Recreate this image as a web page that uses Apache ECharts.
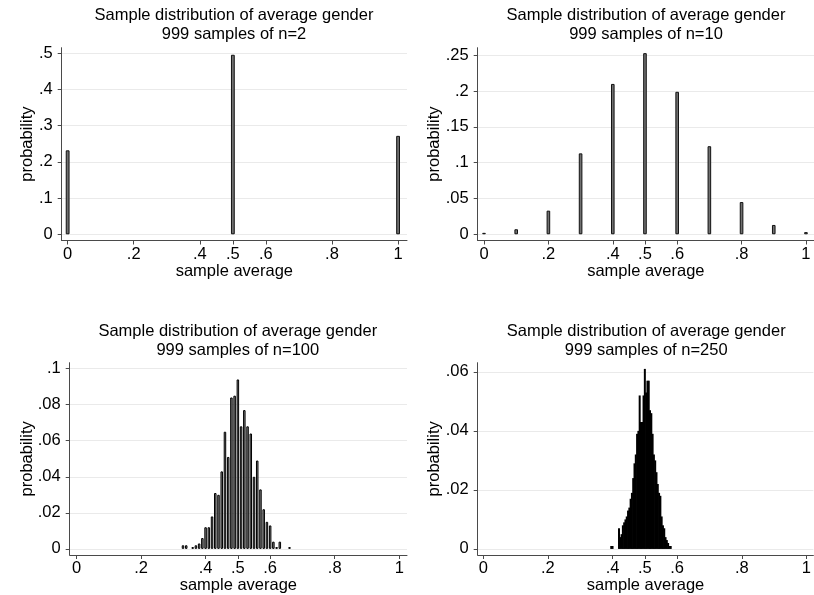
<!DOCTYPE html>
<html>
<head>
<meta charset="utf-8">
<script src="https://cdn.jsdelivr.net/npm/echarts@6/dist/echarts.min.js"></script>
<style>
html,body{margin:0;padding:0;background:#fff;}
#chart{width:814px;height:595px;}
</style>
</head>
<body>
<div id="chart"></div>
<script>
// ---- data ----
const titleLine = 'Sample distribution of average gender';
const subtitles = ['999 samples of n=2', '999 samples of n=10', '999 samples of n=100', '999 samples of n=250'];
const xTickValues = [0, 0.2, 0.4, 0.5, 0.6, 0.8, 1];

const n2X = [0, 0.5, 1];
const n2P = [0.232, 0.496, 0.272];
const n2YTicks = [0, 0.1, 0.2, 0.3, 0.4, 0.5];

const n10X = [0, 0.1, 0.2, 0.3, 0.4, 0.5, 0.6, 0.7, 0.8, 0.9, 1];
const n10P = [0.002, 0.007, 0.033, 0.113, 0.210, 0.253, 0.199, 0.123, 0.045, 0.013, 0.003];
const n10YTicks = [0, 0.05, 0.1, 0.15, 0.2, 0.25];

const n100X = [0.33, 0.34, 0.36, 0.37, 0.38, 0.39, 0.40, 0.41, 0.42, 0.43, 0.44, 0.45, 0.46, 0.47, 0.48, 0.49,
               0.50, 0.51, 0.52, 0.53, 0.54, 0.55, 0.56, 0.57, 0.58, 0.59, 0.60, 0.61, 0.62, 0.63, 0.66];
const n100P = [0.002, 0.002, 0.001, 0.002, 0.003, 0.006, 0.012, 0.012, 0.018, 0.031, 0.030, 0.043, 0.065, 0.051, 0.084, 0.085,
               0.094, 0.068, 0.077, 0.068, 0.064, 0.040, 0.049, 0.033, 0.022, 0.015, 0.013, 0.004, 0.001, 0.004, 0.001];
const n100YTicks = [0, 0.02, 0.04, 0.06, 0.08, 0.1];

const n250X = [0.396, 0.400, 0.420, 0.424, 0.428, 0.432, 0.436, 0.440, 0.444, 0.448, 0.452, 0.456, 0.460, 0.464,
               0.468, 0.472, 0.476, 0.480, 0.484, 0.488, 0.492, 0.496, 0.500, 0.504, 0.508, 0.512, 0.516, 0.520,
               0.524, 0.528, 0.532, 0.536, 0.540, 0.544, 0.548, 0.552, 0.556, 0.560, 0.564, 0.568, 0.572, 0.576, 0.580];
const n250P = [0.001, 0.001, 0.007, 0.004, 0.005, 0.008, 0.009, 0.010, 0.011, 0.013, 0.014, 0.017, 0.019, 0.024,
               0.029, 0.032, 0.039, 0.040, 0.052, 0.043, 0.043, 0.052, 0.061, 0.053, 0.057, 0.057, 0.047, 0.046,
               0.039, 0.032, 0.030, 0.026, 0.022, 0.019, 0.018, 0.011, 0.008, 0.007, 0.004, 0.003, 0.002, 0.001, 0.001];
const n250YTicks = [0, 0.02, 0.04, 0.06];

// ---- layout / style ----
const FONT = 'Liberation Sans, Arial, Helvetica, sans-serif';
const panels = [
  {x: n2X,   y: n2P,   yt: n2YTicks,   grid:{left:61.7, width:345.3, top:47.7, height:192.8}, xr:[-0.018, 1.027],  yr:[-0.0171, 0.5155], tx:234,   ty:6,  ng:25.5, bw:3.8, fill:'#707070', bc:'#111', bwid:1},
  {x: n10X,  y: n10P,  yt: n10YTicks,  grid:{left:477.7, width:336.3, top:47.7, height:192.8}, xr:[-0.0196, 1.025], yr:[-0.0087, 0.2606], tx:646,   ty:6,  ng:34.5, bw:3.6, fill:'#707070', bc:'#111', bwid:1},
  {x: n100X, y: n100P, yt: n100YTicks, grid:{left:69.7, width:337.3, top:362.7, height:193}, xr:[-0.021, 1.024],   yr:[-0.0034, 0.1033], tx:237.8, ty:322, ng:33.5, bw:2.5, fill:'#8a8a8a', bc:'#000', bwid:1},
  {x: n250X, y: n250P, yt: n250YTicks, grid:{left:477.7, width:336.3, top:362.7, height:193}, xr:[-0.0173, 1.0216], yr:[-0.00206, 0.0631], tx:646.2, ty:322, ng:34.5, bw:2, fill:'#000', bc:'#000', bwid:0}
];

function fmt(v) {
  const s = String(+(+v).toFixed(4));
  return s.replace(/^0\./, '.');
}

const axisColor = '#4a4a4a';
const option = {
  animation: false,
  backgroundColor: '#fff',
  title: [], grid: [], xAxis: [], yAxis: [], series: []
};

panels.forEach((p, i) => {
  option.title.push({
    text: titleLine + '\n' + subtitles[i],
    left: p.tx, top: p.ty, textAlign: 'center', padding: 0,
    textStyle: {fontFamily: FONT, fontSize: 16.5, fontWeight: 'normal', color: '#000', lineHeight: 19}
  });
  option.grid.push(Object.assign({containLabel: false}, p.grid));
  option.xAxis.push({
    type: 'value', gridIndex: i, min: p.xr[0], max: p.xr[1],
    name: 'sample average', nameLocation: 'middle', nameGap: 22, nameMoveOverlap: false,
    nameTextStyle: {fontFamily: FONT, fontSize: 16.5, color: '#000'},
    axisLine: {show: true, onZero: false, lineStyle: {color: axisColor, width: 1}},
    axisTick: {show: true, length: 4, customValues: xTickValues, lineStyle: {color: axisColor}},
    axisLabel: {customValues: xTickValues, formatter: fmt, margin: 5, fontFamily: FONT, fontSize: 16.5, color: '#000'},
    splitLine: {show: false}
  });
  option.yAxis.push({
    type: 'value', gridIndex: i, min: p.yr[0], max: p.yr[1],
    name: 'probability', nameLocation: 'middle', nameGap: p.ng, nameMoveOverlap: false,
    nameTextStyle: {fontFamily: FONT, fontSize: 16.5, color: '#000'},
    axisLine: {show: true, onZero: false, lineStyle: {color: axisColor, width: 1}},
    axisTick: {show: true, length: 4, customValues: p.yt, lineStyle: {color: axisColor}},
    axisLabel: {customValues: p.yt, formatter: fmt, margin: 9, fontFamily: FONT, fontSize: 16.5, color: '#000'},
    splitLine: {show: true, lineStyle: {color: '#eaeaea', width: 1}}
  });
  option.series.push({
    type: 'bar', xAxisIndex: i, yAxisIndex: i,
    barWidth: p.bw,
    data: p.x.map((v, k) => [v, p.y[k]]),
    itemStyle: {color: p.fill, borderColor: p.bc, borderWidth: p.bwid}
  });
});

const chart = echarts.init(document.getElementById('chart'), null, {renderer: 'canvas'});
chart.setOption(option);
</script>
</body>
</html>
